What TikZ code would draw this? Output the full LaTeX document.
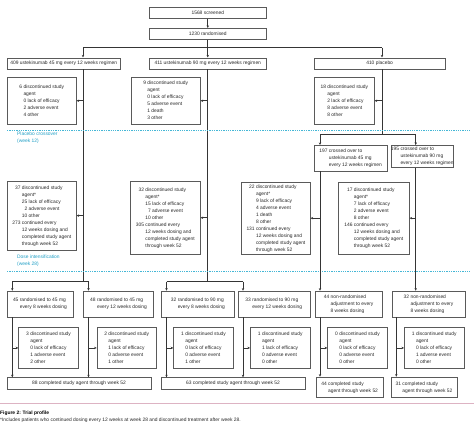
\documentclass[tikz,border=0pt]{standalone}
\usepackage{fontspec}
\setmainfont{Liberation Sans}
\usetikzlibrary{arrows.meta}
\definecolor{boxc}{HTML}{5A5A5A}
\definecolor{linec}{HTML}{353535}
\definecolor{txtc}{HTML}{2A2A2A}
\definecolor{cyanc}{HTML}{45B7D6}
\definecolor{cyant}{HTML}{22A0C6}
\definecolor{pinkc}{HTML}{DDB3C3}
\newcommand\fs{\fontsize{4.9}{7}\selectfont}
\newcommand\HL[1]{{\begin{tabular}{@{}r@{\ }r@{\ }l@{}}#1\end{tabular}}}
\newcommand\M[1]{\multicolumn{2}{@{}l@{}}{#1}}
\newcommand\BX[6]{\node[bx, minimum width={#4-#2}, minimum height={#5-#3}, anchor=north west] (#1) at (#2,#3) {#6};}
\begin{document}
\begin{tikzpicture}[x=1pt,y=-1pt,
 bx/.style={draw=boxc,line width=0.55pt,inner sep=0pt,text=txtc,font=\fs},
 ln/.style={draw=linec,line width=0.6pt},
 arr/.style={ln,-{Stealth[length=2.6pt,width=2.4pt]}},
 dsh/.style={draw=cyanc,line width=0.7pt,dash pattern=on 1.3pt off 1pt},
 lab/.style={text=cyant,font=\fs,align=left,inner sep=0pt,anchor=north west}]
\fill[white] (0,0) rectangle (474,423);
\useasboundingbox (0,0) rectangle (474,423);
% reference coordinates
\coordinate (xa) at (83,0);
\coordinate (xb) at (207.5,0);
\coordinate (xc) at (382,0);
\coordinate (xd) at (320,0);
\coordinate (xe) at (415.7,0);
\coordinate (x1) at (12.3,0);
\coordinate (x2) at (88.5,0);
\coordinate (x3) at (166.5,0);
\coordinate (x4) at (243,0);
\coordinate (x5) at (320,0);
\coordinate (x6) at (396.3,0);
\coordinate (sp) at (0,47.7);
\coordinate (sp2) at (0,134.3);
\coordinate (sp3) at (0,281.7);
% top
\BX{scr}{149}{7}{266}{18}{1568 screened}
\BX{rnd}{149}{28}{266}{39}{1230 randomised}
\BX{u45}{7}{57.5}{120}{68.5}{409 ustekinumab 45 mg every 12 weeks regimen}
\BX{u90}{149}{57.5}{266}{68.5}{411 ustekinumab 90 mg every 12 weeks regimen}
\BX{plc}{314}{57.5}{444.7}{68.5}{410 placebo}
\draw[arr] (scr) -- (rnd);
\draw[ln] (rnd.south) -- (rnd.south|-sp);
\draw[ln] (xa|-sp) -- (xc|-sp);
\draw[arr] (xa|-sp) -- (xa|-u45.north);
\draw[arr] (rnd.south|-sp) -- (u90.north);
\draw[arr] (xc|-sp) -- (xc|-plc.north);
% first discontinuations
\BX{d1}{7}{77}{76}{124}{\HL{6&\M{discontinued study}\\&\M{agent}\\&0&lack of efficacy\\&2&adverse event\\&4&other}}
\BX{d2}{130.7}{77}{200}{124}{\HL{9&\M{discontinued study}\\&\M{agent}\\&0&lack of efficacy\\&5&adverse event\\&1&death\\&3&other}}
\BX{d3}{314}{77}{374}{124}{\HL{18&\M{discontinued study}\\&\M{agent}\\&2&lack of efficacy\\&8&adverse event\\&8&other}}
\draw[ln] (xa|-u45.south) -- (xa|-sp3);
\draw[ln] (xb|-u90.south) -- (xb|-sp3);
\draw[ln] (xc|-plc.south) -- (xc|-sp2);
\draw[arr] (xa|-d1.east) -- (d1.east);
\draw[arr] (xb|-d2.east) -- (d2.east);
\draw[arr] (xc|-d3.east) -- (d3.east);
% placebo crossover
\draw[dsh] (7,130) -- (470,130);
\node[lab] (l1) at (17,131.5) {Placebo crossover\\(week 12)};
\BX{c1}{314}{145}{386.7}{170.7}{\HL{197&\M{crossed over to}\\&\M{ustekinumab 45 mg}\\&\M{every 12 weeks regimen}}}
\BX{c2}{390.7}{145}{452}{167}{\HL{195&\M{crossed over to}\\&\M{ustekinumab 90 mg}\\&\M{every 12 weeks regimen}}}
\draw[ln] (xd|-sp2) -- (xe|-sp2);
\draw[arr] (xd|-sp2) -- (xd|-c1.north);
\draw[arr] (xe|-sp2) -- (xe|-c2.north);
% second discontinuations
\BX{a}{7}{180.7}{76}{250}{\HL{37&\M{discontinued study}\\&\M{agent*}\\&25&lack of efficacy\\&2&adverse event\\&10&other\\273&\M{continued every}\\&\M{12 weeks dosing and}\\&\M{completed study agent}\\&\M{through week 52}}}
\BX{b}{130}{180.7}{200}{254.3}{\HL{32&\M{discontinued study}\\&\M{agent*}\\&15&lack of efficacy\\&7&adverse event\\&10&other\\305&\M{continued every}\\&\M{12 weeks dosing and}\\&\M{completed study agent}\\&\M{through week 52}}}
\BX{c}{241.3}{181.5}{310}{254.3}{\HL{22&\M{discontinued study}\\&\M{agent*}\\&9&lack of efficacy\\&4&adverse event\\&1&death\\&8&other\\131&\M{continued every}\\&\M{12 weeks dosing and}\\&\M{completed study agent}\\&\M{through week 52}}}
\BX{d}{338}{181.5}{409}{254.3}{\HL{17&\M{discontinued study}\\&\M{agent*}\\&7&lack of efficacy\\&2&adverse event\\&8&other\\146&\M{continued every}\\&\M{12 weeks dosing and}\\&\M{completed study agent}\\&\M{through week 52}}}
\draw[arr] (xa|-a.east) -- (a.east);
\draw[arr] (xb|-b.east) -- (b.east);
\draw[arr] (xd|-c.east) -- (c.east);
\draw[arr] (xe|-d.east) -- (d.east);
% dose intensification
\draw[dsh] (7,271) -- (470,271);
\node[lab] (l2) at (17,254.8) {Dose intensification\\(week 28)};
\BX{r1}{6.7}{290.7}{72.7}{316.7}{\HL{45&\M{randomised to 45 mg}\\&\M{every 8 weeks dosing}}}
\BX{r2}{83.3}{290.7}{153.3}{316.7}{\HL{48&\M{randomised to 45 mg}\\&\M{every 12 weeks dosing}}}
\BX{r3}{161}{290.7}{234.3}{316.7}{\HL{32&\M{randomised to 90 mg}\\&\M{every 8 weeks dosing}}}
\BX{r4}{237.5}{290.7}{309.5}{316.7}{\HL{33&\M{randomised to 90 mg}\\&\M{every 12 weeks dosing}}}
\BX{r5}{315}{290.7}{381.7}{316.7}{\HL{44&\M{non-randomised}\\&\M{adjustment to every}\\&\M{8 weeks dosing}}}
\BX{r6}{391.5}{290.7}{465}{316.7}{\HL{32&\M{non-randomised}\\&\M{adjustment to every}\\&\M{8 weeks dosing}}}
\draw[ln] (x1|-sp3) -- (x2|-sp3);
\draw[ln] (x3|-sp3) -- (x4|-sp3);
\draw[arr] (x1|-sp3) -- (x1|-r1.north);
\draw[arr] (x2|-sp3) -- (x2|-r2.north);
\draw[arr] (x3|-sp3) -- (x3|-r3.north);
\draw[arr] (x4|-sp3) -- (x4|-r4.north);
\draw[arr] (xd|-c1.south) -- (xd|-r5.north);
\draw[arr] (xe|-c2.south) -- (xe|-r6.north);
% third discontinuations
\BX{e1}{18.3}{327}{78.3}{368.3}{\HL{3&\M{discontinued study}\\&\M{agent}\\&0&lack of efficacy\\&1&adverse event\\&2&other}}
\BX{e2}{96.7}{327}{156}{368.3}{\HL{2&\M{discontinued study}\\&\M{agent}\\&1&lack of efficacy\\&0&adverse event\\&1&other}}
\BX{e3}{173.3}{327}{233.3}{368.3}{\HL{1&\M{discontinued study}\\&\M{agent}\\&0&lack of efficacy\\&0&adverse event\\&1&other}}
\BX{e4}{250}{327}{310}{368.3}{\HL{1&\M{discontinued study}\\&\M{agent}\\&1&lack of efficacy\\&0&adverse event\\&0&other}}
\BX{e5}{327.3}{327}{387.3}{368.3}{\HL{0&\M{discontinued study}\\&\M{agent}\\&0&lack of efficacy\\&0&adverse event\\&0&other}}
\BX{e6}{404}{327}{464}{368.3}{\HL{1&\M{discontinued study}\\&\M{agent}\\&0&lack of efficacy\\&1&adverse event\\&0&other}}
% completed
\BX{f1}{6.7}{377.3}{150.7}{389}{88 completed study agent through week 52}
\BX{f2}{160.7}{377.3}{304.7}{389}{63 completed study agent through week 52}
\BX{f3}{315.7}{376.7}{383}{397.3}{\HL{44&\M{completed study}\\&\M{agent through week 52}}}
\BX{f4}{390.7}{376.7}{456.7}{397.3}{\HL{31&\M{completed study}\\&\M{agent through week 52}}}
\draw[arr] (x1|-r1.south) -- (x1|-f1.north);
\draw[arr] (x2|-r2.south) -- (x2|-f1.north);
\draw[arr] (x3|-r3.south) -- (x3|-f2.north);
\draw[arr] (x4|-r4.south) -- (x4|-f2.north);
\draw[arr] (x5|-r5.south) -- (x5|-f3.north);
\draw[arr] (x6|-r6.south) -- (x6|-f4.north);
\draw[arr] (x1|-e1.west) -- (e1.west);
\draw[arr] (x2|-e2.west) -- (e2.west);
\draw[arr] (x3|-e3.west) -- (e3.west);
\draw[arr] (x4|-e4.west) -- (e4.west);
\draw[arr] (x5|-e5.west) -- (e5.west);
\draw[arr] (x6|-e6.west) -- (e6.west);
% caption
\draw[pinkc,line width=0.6pt] (0,403.3) -- (474,403.3);
\node[anchor=base west,inner sep=0pt,font=\fs\bfseries,text=black] (ttl) at (0,414) {Figure 2: Trial profile};
\node[anchor=base west,inner sep=0pt,font=\fs,text=txtc] (fn) at (0,421) {*Includes patients who continued dosing every 12 weeks at week 28 and discontinued treatment after week 28.};
\end{tikzpicture}
\end{document}
